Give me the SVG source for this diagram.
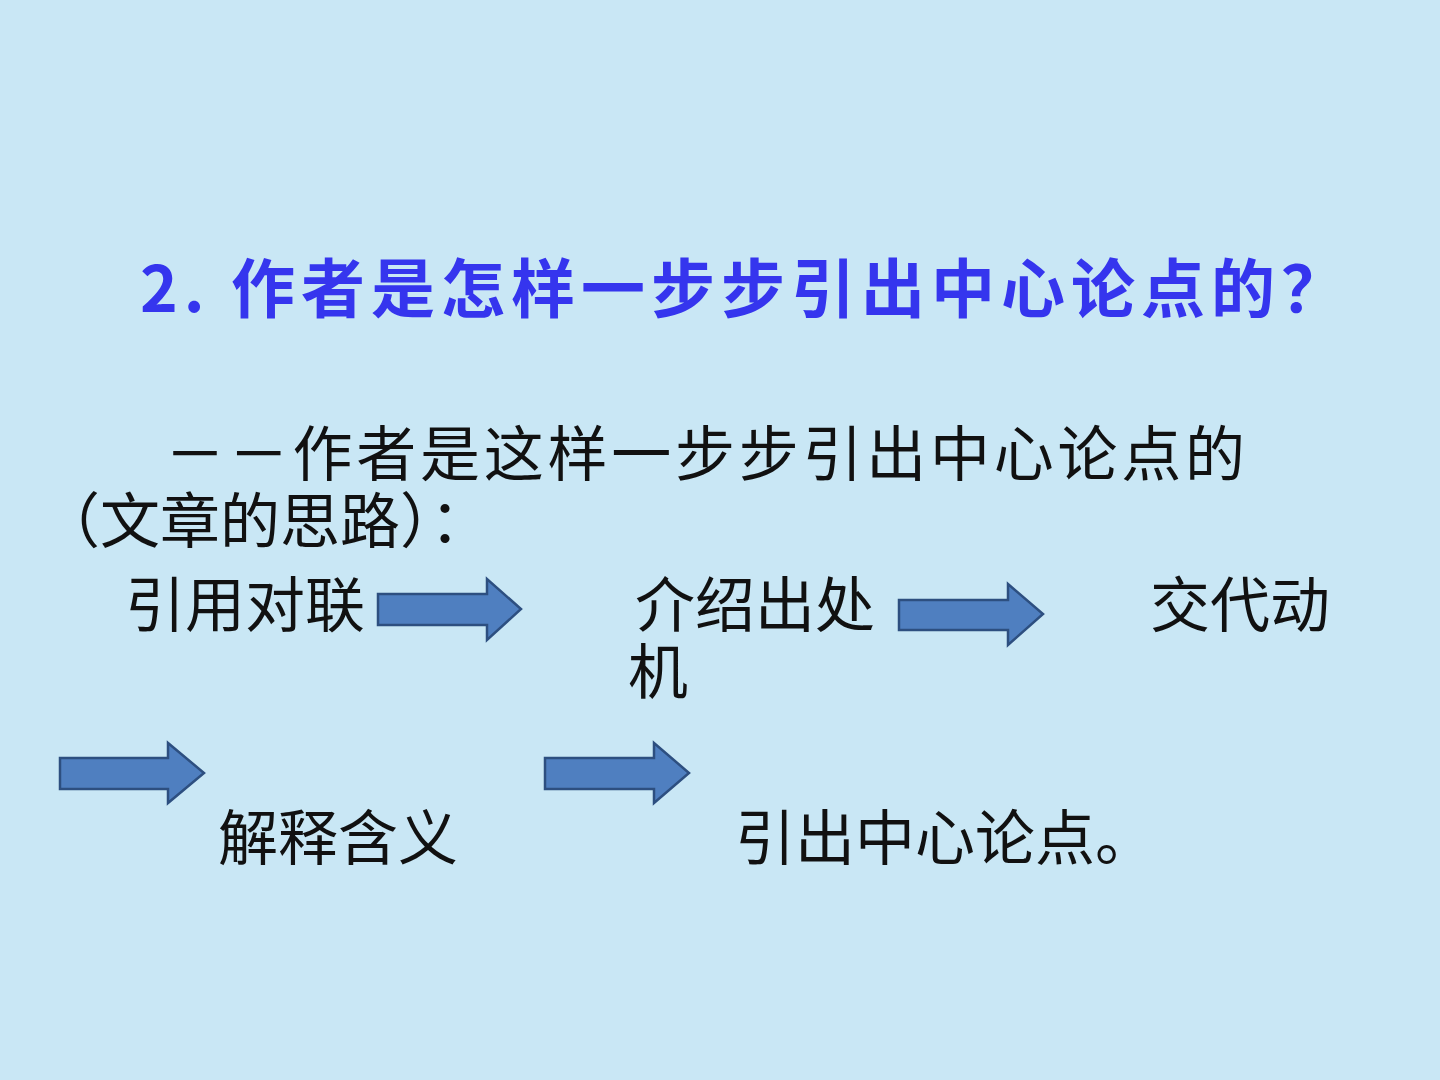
<svg xmlns="http://www.w3.org/2000/svg" width="1440" height="1080" viewBox="0 0 1440 1080">
<style>
.t{font-family:"Noto Sans CJK SC","Liberation Serif",sans-serif;font-size:60px;fill:#111}
.h{font-family:"Noto Sans CJK SC","Liberation Sans",sans-serif;font-size:64px;font-weight:bold;fill:#3535ee}
.a{fill:#4f7fc0;stroke:#2d4f80;stroke-width:2.5}
</style>
<rect width="1440" height="1080" fill="#c9e7f5"/>
<g id="title"><text class="h" x="140" y="312" textLength="1205">2. 作者是怎样一步步引出中心论点的？</text></g>
<g id="intro">
<text class="t" x="165" y="476" textLength="1080">－－作者是这样一步步引出中心论点的</text>
<text class="t" x="40" y="543" textLength="450">（文章的思路）：</text>
</g>
<g id="n1"><text class="t" x="125" y="627">引用对联</text></g>
<g id="n2"><text class="t" x="635" y="627">介绍出处</text></g>
<g id="n3"><text class="t" x="1150" y="627">交代动</text><text class="t" x="628" y="694">机</text></g>
<g id="n4"><text class="t" x="218" y="860">解释含义</text></g>
<g id="n5"><text class="t" x="735" y="860">引出中心论点。</text></g>
<g id="connectors">
<path class="a" d="M378 594H487V579L521 609L487 640V625H378Z"/>
<path class="a" d="M899 600H1008V584L1043 614L1008 645V630H899Z"/>
<path class="a" d="M60 758H168V743L204 773L168 803V789H60Z"/>
<path class="a" d="M545 758H654V743L689 773L654 803V789H545Z"/>
</g>
</svg>
